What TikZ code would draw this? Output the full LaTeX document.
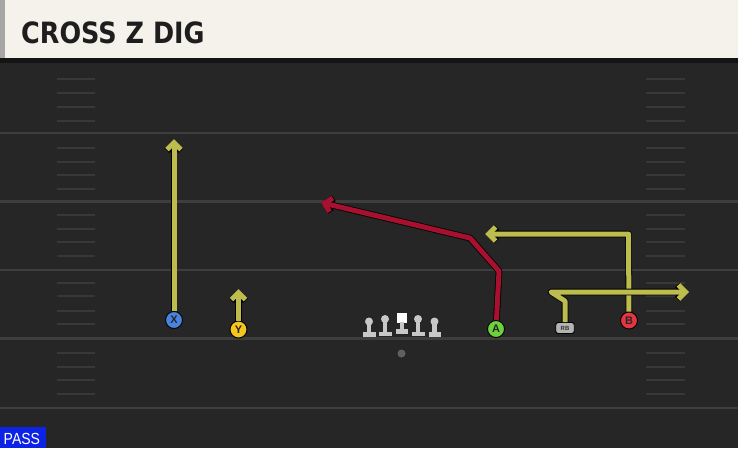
\documentclass[tikz,border=0pt]{standalone}
\usepackage{fontspec}
\setmainfont{Liberation Sans}
\newfontfamily\headfont{DejaVu Sans}
\usetikzlibrary{shapes, calc, arrows.meta}

\definecolor{fieldgray}{RGB}{38,38,38}
\definecolor{yardgray}{RGB}{62,62,62}
\definecolor{hashgray}{RGB}{56,56,56}
\definecolor{cream}{RGB}{245,242,236}
\definecolor{barblack}{RGB}{20,20,20}
\definecolor{titleblack}{RGB}{30,30,30}
\definecolor{routeyel}{RGB}{188,189,78}
\definecolor{routered}{RGB}{168,16,48}
\definecolor{xblue}{RGB}{72,132,222}
\definecolor{yyellow}{RGB}{244,198,30}
\definecolor{agreen}{RGB}{110,208,60}
\definecolor{bred}{RGB}{230,52,64}
\definecolor{olgray}{RGB}{200,200,200}
\definecolor{passblue}{RGB}{12,34,228}

\tikzset{
	yard/.style={draw=yardgray, line width=2.5pt},
	hash/.style={draw=hashgray, line width=2pt},
	player/.style={circle, draw=black, line width=0.9pt, minimum size=17pt, inner sep=0pt,
		font=\bfseries\fontsize{11}{11}\selectfont, text=black!85},
	routeedge/.style={draw=black, line width=6.6pt, line join=round,
		-{Straight Barb[length=7pt, width=14pt]}},
	route/.style={draw=routeyel, line width=5pt, line join=round,
		-{Straight Barb[length=7pt, width=14pt]}},
	redroute/.style={route, draw=routered},
}

\begin{document}
\begin{tikzpicture}[x=1pt, y=-1pt]

	\useasboundingbox (0,0) rectangle (738,448);
	\fill[fieldgray] (0,0) rectangle (738,448);

	% title band
	\fill[cream] (0,0) rectangle (738,58);
	\fill[barblack] (0,58) rectangle (738,63);
	\fill[gray!70] (0,0) rectangle (5,58);
	\node[anchor=base west, inner sep=0pt, text=titleblack,
		font=\headfont\bfseries\fontsize{25.5}{25.5}\selectfont] (title) at (21,43)
		{\scalebox{1}[1.15]{CROSS Z DIG}};

	% yard lines
	\draw[yard] (0,133) -- (738,133);
	\draw[yard] (0,201.7) -- (738,201.7);
	\draw[yard] (0,270) -- (738,270);
	\draw[yard] (0,338.5) -- (738,338.5);
	\draw[yard] (0,408) -- (738,408);

	% hash marks
	\draw[hash] (57,79) -- (95,79) (646,79) -- (685,79);
	\draw[hash] (57,92.5) -- (95,92.5) (646,92.5) -- (685,92.5);
	\draw[hash] (57,106.5) -- (95,106.5) (646,106.5) -- (685,106.5);
	\draw[hash] (57,120.5) -- (95,120.5) (646,120.5) -- (685,120.5);

	\draw[hash] (57,147.5) -- (95,147.5) (646,147.5) -- (685,147.5);
	\draw[hash] (57,161.5) -- (95,161.5) (646,161.5) -- (685,161.5);
	\draw[hash] (57,175) -- (95,175) (646,175) -- (685,175);
	\draw[hash] (57,188.5) -- (95,188.5) (646,188.5) -- (685,188.5);

	\draw[hash] (57,215) -- (95,215) (646,215) -- (685,215);
	\draw[hash] (57,228.5) -- (95,228.5) (646,228.5) -- (685,228.5);
	\draw[hash] (57,242) -- (95,242) (646,242) -- (685,242);
	\draw[hash] (57,256) -- (95,256) (646,256) -- (685,256);

	\draw[hash] (57,282.5) -- (95,282.5) (646,282.5) -- (685,282.5);
	\draw[hash] (57,296) -- (95,296) (646,296) -- (685,296);
	\draw[hash] (57,310.5) -- (95,310.5) (646,310.5) -- (685,310.5);
	\draw[hash] (57,324) -- (95,324) (646,324) -- (685,324);

	\draw[hash] (57,352.5) -- (95,352.5) (646,352.5) -- (685,352.5);
	\draw[hash] (57,366.5) -- (95,366.5) (646,366.5) -- (685,366.5);
	\draw[hash] (57,380) -- (95,380) (646,380) -- (685,380);
	\draw[hash] (57,394) -- (95,394) (646,394) -- (685,394);

	% offensive line
	\fill[olgray] (369,321.5) circle (4pt);
	\fill[olgray] (366.8,321) rectangle (371.2,333);
	\fill[olgray] (363,332) rectangle (375.5,336.5);
	\fill[olgray] (385,319) circle (4pt);
	\fill[olgray] (382.8,319) rectangle (387.2,332);
	\fill[olgray] (379,331.5) rectangle (391.5,336);
	\fill[white] (397,313) rectangle (406.5,322.5);
	\fill[olgray] (399.5,322) rectangle (404,330);
	\fill[olgray] (395.5,329) rectangle (408,333.5);
	\fill[olgray] (418,319) circle (4pt);
	\fill[olgray] (415.8,319) rectangle (420.2,332);
	\fill[olgray] (412,331.5) rectangle (424.5,336);
	\fill[olgray] (434.5,321.5) circle (4pt);
	\fill[olgray] (432.3,321) rectangle (436.7,333);
	\fill[olgray] (428.5,332) rectangle (441,336.5);

	% ball
	\node[circle, fill=gray!75!black, minimum size=8pt, inner sep=0pt] (ball) at (401.5,353.5) {};

	% players
	\node[player, fill=xblue] (X) at (174,320) {X};
	\node[player, fill=yyellow] (Y) at (238.5,329.5) {Y};
	\node[player, fill=agreen] (A) at (496,329) {A};
	\node[player, fill=bred] (B) at (629,320.5) {B};
	\node[draw=black, line width=0.9pt, fill=olgray!90!black, rounded corners=2.5pt,
		minimum width=18.5pt, minimum height=11pt, inner sep=0pt,
		font=\bfseries\fontsize{6}{6}\selectfont, text=black!80] (RB) at (565,328) {RB};

	% route ends and breaks
	\coordinate (Xend) at (174,139);
	\coordinate (Yend) at (238.5,289);
	\coordinate (A1) at (499,271);
	\coordinate (A2) at (470,238);
	\coordinate (Aend) at (321,202.5);
	\coordinate (B1) at (628.5,234);
	\coordinate (Bend) at (485,234);
	\coordinate (RB1) at (565,301);
	\coordinate (RB2) at (551,292);
	\coordinate (RBend) at (689,292);

	% routes, dark edge first
	\draw[routeedge] (X) -- (Xend);
	\draw[route] (X) -- (Xend);
	\draw[routeedge] (Y) -- (Yend);
	\draw[route] (Y) -- (Yend);
	\draw[routeedge] (A) -- (A1) -- (A2) -- (Aend);
	\draw[redroute] (A) -- (A1) -- (A2) -- (Aend);
	\draw[routeedge] (B) -- (B1) -- (Bend);
	\draw[route] (B) -- (B1) -- (Bend);
	\draw[routeedge] (RB) -- (RB1) -- (RB2) -- (RBend);
	\draw[route] (RB) -- (RB1) -- (RB2) -- (RBend);

	% play type
	\fill[passblue] (0,427) rectangle (46,448);
	\node[anchor=base west, inner sep=0pt, text=white, font=\fontsize{14}{14}\selectfont]
		(pass) at (3.5,444.5) {\scalebox{1}[1.15]{PASS}};

\end{tikzpicture}
\end{document}
